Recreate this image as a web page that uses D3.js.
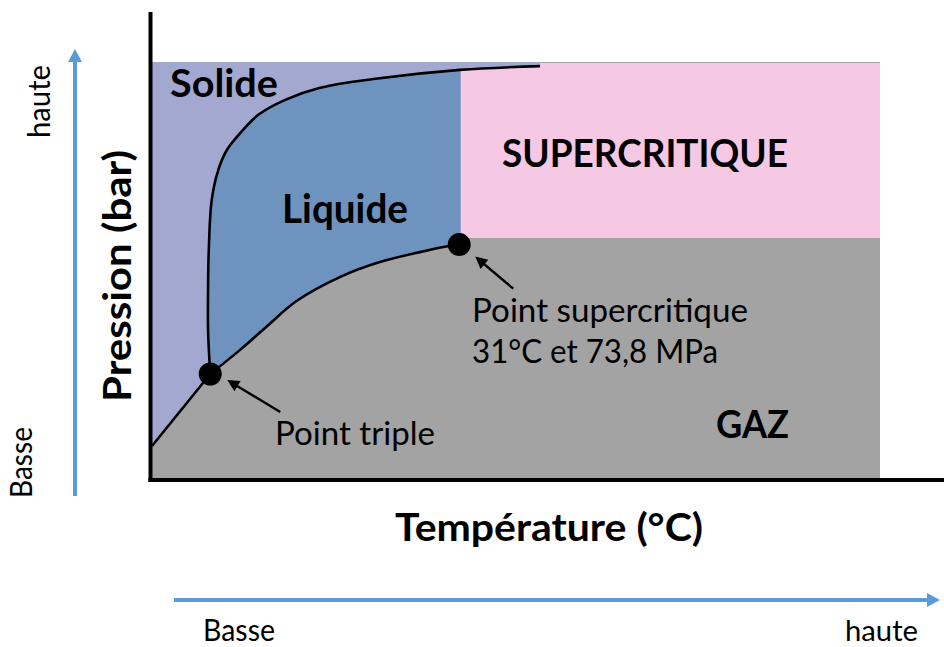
<!DOCTYPE html>
<html>
<head>
<meta charset="utf-8">
<script src="https://cdn.jsdelivr.net/npm/d3@7"></script>
<style>
  html, body { margin: 0; padding: 0; background: #fff; }
  svg { display: block; }
  text { font-family: Lato, "Open Sans", "DejaVu Sans", sans-serif; }
</style>
</head>
<body>
<script>
// ---- Data (abstract units: temperature 0..100, pressure 0..100) ----
const sublimationCurve = [[0, 7.7], [8.0, 25.0]];
const vaporizationCurve = [[8.0, 25.0], [12.1, 30.8], [15.8, 36.5], [19.9, 42.6], [25.8, 48.3],
                           [31.3, 51.9], [36.8, 54.3], [40.6, 55.7], [42.2, 56.1]];
const meltingCurve = [[8.0, 25.0], [7.7, 35.6], [7.7, 45.2], [7.8, 54.8], [8.2, 66.8], [9.1, 74.0],
                      [10.3, 78.9], [12.1, 82.9], [14.6, 87.3], [18.3, 90.9], [23.1, 93.8],
                      [30.4, 95.9], [42.3, 98.1], [53.3, 99.0]];
const triplePoint = [8.0, 25.0];
const criticalPoint = [42.2, 56.1];
const supercriticalBounds = [[42.4, 57.7], [100, 100]];
const solidTop = 100;

const regionLabels = ["Solide", "Liquide", "SUPERCRITIQUE", "GAZ"];
const annotationLabels = ["Point triple", "Point supercritique", "31°C et 73,8 MPa"];
const axisTitles = ["Température (°C)", "Pression (bar)"];
const scaleLabels = ["Basse", "haute"];

// ---- Layout ----
const W = 944, H = 647;
const svg = d3.select("body").append("svg").attr("width", W).attr("height", H);
svg.append("rect").attr("width", W).attr("height", H).attr("fill", "#fff");

const x = d3.scaleLinear().domain([0, 100]).range([152, 880]);
const y = d3.scaleLinear().domain([0, 100]).range([478, 62]);

const colors = { solid: "#a3a8d0", liquid: "#6e93bf", super: "#f5c8e4", gas: "#a3a3a3", blue: "#5b9bd5" };

const curveLine = d3.line().x(d => x(d[0])).y(d => y(d[1])).curve(d3.curveCatmullRom.alpha(0.5));
const straight = d3.line().x(d => x(d[0])).y(d => y(d[1]));
const cont = s => s.replace(/^M/, "L");

// Gas (base)
svg.append("rect")
  .attr("x", x(0)).attr("y", y(100))
  .attr("width", x(100) - x(0)).attr("height", y(0) - y(100))
  .attr("fill", colors.gas);

// Liquid
const lastMelt = meltingCurve[meltingCurve.length - 1];
const liquidPath = curveLine(meltingCurve)
  + cont(straight([lastMelt, supercriticalBounds[0], criticalPoint]))
  + cont(curveLine(vaporizationCurve.slice().reverse())) + "Z";
svg.append("path").attr("d", liquidPath).attr("fill", colors.liquid);

// Supercritical
svg.append("rect")
  .attr("x", x(supercriticalBounds[0][0])).attr("y", y(supercriticalBounds[1][1]) + 1)
  .attr("width", x(supercriticalBounds[1][0]) - x(supercriticalBounds[0][0]))
  .attr("height", y(supercriticalBounds[0][1]) - y(supercriticalBounds[1][1]) - 1)
  .attr("fill", colors.super);

// Solid
const solidPath = straight([[0, solidTop], [lastMelt[0], solidTop]])
  + cont(curveLine(meltingCurve.slice().reverse()))
  + cont(straight(sublimationCurve.slice().reverse())) + "Z";
svg.append("path").attr("d", solidPath).attr("fill", colors.solid);

// Phase boundaries
[[sublimationCurve, straight], [vaporizationCurve, curveLine], [meltingCurve, curveLine]].forEach(([c, gen]) => {
  svg.append("path").attr("d", gen(c)).attr("fill", "none")
    .attr("stroke", "#000").attr("stroke-width", 2.6).attr("stroke-linejoin", "round");
});

// Points
[triplePoint, criticalPoint].forEach(p => {
  svg.append("circle").attr("cx", x(p[0])).attr("cy", y(p[1])).attr("r", 11.5).attr("fill", "#000");
});

// Axis lines
svg.append("line").attr("x1", 150.5).attr("x2", 150.5).attr("y1", 12).attr("y2", 482)
  .attr("stroke", "#000").attr("stroke-width", 4);
svg.append("line").attr("x1", 148.5).attr("x2", W).attr("y1", 480).attr("y2", 480)
  .attr("stroke", "#000").attr("stroke-width", 4);

// Arrow helper
function arrow(x1, y1, x2, y2, color, sw, headLen, headHalf) {
  const a = Math.atan2(y2 - y1, x2 - x1);
  const bx = x2 - headLen * Math.cos(a), by = y2 - headLen * Math.sin(a);
  svg.append("line").attr("x1", x1).attr("y1", y1).attr("x2", bx + Math.cos(a)).attr("y2", by + Math.sin(a))
    .attr("stroke", color).attr("stroke-width", sw);
  const px = -Math.sin(a), py = Math.cos(a);
  svg.append("path")
    .attr("d", `M${x2},${y2}L${bx + px * headHalf},${by + py * headHalf}L${bx - px * headHalf},${by - py * headHalf}Z`)
    .attr("fill", color);
}

// Annotation arrows (offsets from the marker)
const tp = [x(triplePoint[0]), y(triplePoint[1])];
const cp = [x(criticalPoint[0]), y(criticalPoint[1])];
arrow(tp[0] + 70, tp[1] + 38, tp[0] + 17, tp[1] + 6, "#000", 2.4, 12, 6);
arrow(cp[0] + 54, cp[1] + 44, cp[0] + 16, cp[1] + 12, "#000", 2.4, 12, 6);

// Blue scale arrows
arrow(75, 496, 75, 49, colors.blue, 4, 13, 7);
arrow(174, 600, 940, 600, colors.blue, 4, 13, 7);

// Text helper
function label(txt, tx, ty, size, weight, len, rotate) {
  const t = svg.append("text")
    .attr("font-size", size).attr("font-weight", weight).attr("fill", "#000")
    .attr("textLength", len).attr("lengthAdjust", "spacingAndGlyphs")
    .text(txt);
  if (rotate) t.attr("transform", `translate(${tx},${ty}) rotate(-90)`);
  else t.attr("x", tx).attr("y", ty);
  return t;
}

// Region labels
label(regionLabels[0], 170, 97, 39, 700, 108);
label(regionLabels[1], 282, 223, 40, 700, 126);
label(regionLabels[2], 502, 167, 39, 700, 286);
label(regionLabels[3], 716, 438, 39, 700, 73);

// Annotations
label(annotationLabels[0], 275, 445, 32, 400, 160);
label(annotationLabels[1], 472, 322, 32, 400, 276);
label(annotationLabels[2], 472, 363, 32, 400, 246);

// Axis titles
label(axisTitles[0], 395, 541, 39, 700, 308);
label(axisTitles[1], 131, 402, 39, 700, 252, true);

// Scale labels
label(scaleLabels[1], 50, 138, 30, 400, 73, true);
label(scaleLabels[0], 32, 498, 30, 400, 71, true);
label(scaleLabels[0], 203, 641, 30, 400, 72);
label(scaleLabels[1], 845, 641, 29, 400, 73);
</script>
</body>
</html>
